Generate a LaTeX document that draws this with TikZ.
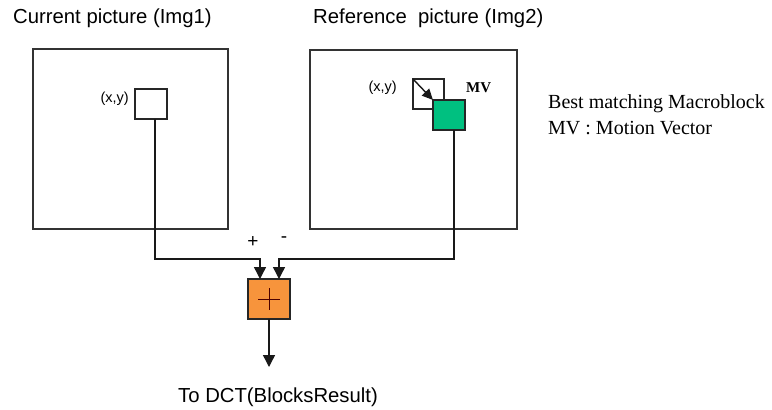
\documentclass[tikz,border=0pt]{standalone}
\usepackage{fontspec}
\setmainfont{Liberation Serif}
\newfontfamily\arialf{Liberation Sans}
\usetikzlibrary{arrows.meta,calc}
\definecolor{mvgreen}{RGB}{0,192,128}
\definecolor{sumorange}{RGB}{247,148,60}
\begin{document}
\begin{tikzpicture}[x=1pt,y=-1pt,
  frame/.style={draw=black!80,line width=1.6pt,inner sep=0pt,outer sep=0pt},
  blk/.style={draw=black!85,line width=1.3pt,inner sep=0pt,outer sep=0pt},
  conn/.style={draw=black!90,line width=1.4pt},
  arr/.style={conn,-{Triangle[length=12pt,width=12pt]}},
  lbl/.style={font=\arialf\fontsize{20.3}{23}\selectfont,inner sep=0pt,anchor=west},
  small/.style={font=\arialf\fontsize{14.5}{16}\selectfont,inner sep=0pt},
  note/.style={font=\fontsize{20}{23}\selectfont,inner sep=0pt,anchor=west,align=left}]
\useasboundingbox (0,0) rectangle (772,410);
% frames
\node[frame,minimum width=195pt,minimum height=180pt] (f1) at (130.5,139) {};
\node[frame,minimum width=207pt,minimum height=179pt] (f2) at (413.5,139.5) {};
% titles
\node[lbl] (t1) at (13,18) {Current picture (Img1)};
\node[lbl] (t2) at (313,18) {Reference\ \ picture (Img2)};
% blocks
\node[blk,minimum width=32pt,minimum height=30pt] (b1) at (151,104) {};
\node[blk,minimum width=31pt,minimum height=30pt] (b2) at (428.5,94) {};
\node[blk,fill=mvgreen,minimum width=32pt,minimum height=30pt] (g) at (449,115) {};
\node[small,anchor=east] (xy1) at (129,99) {(x,y)};
\node[small,anchor=east] (xy2) at (397,88) {(x,y)};
\node[font=\bfseries\fontsize{15}{17}\selectfont,inner sep=0pt,anchor=west] (mv) at (466,88) {MV};
\draw[conn,-{Triangle[length=11pt,width=10pt]}] (b2.north west) -- (g.north west);
% notes
\node[note] (n1) at (548,104) {Best matching Macroblock};
\node[note] (n2) at (548,128) {MV : Motion Vector};
% sum
\node[blk,fill=sumorange,minimum width=42pt,minimum height=40pt] (s) at (269,299) {};
\draw[line width=1pt,draw=black!70!red] ($(s.center)+(-11,0)$) -- ($(s.center)+(11,0)$)
  ($(s.center)+(0,-11)$) -- ($(s.center)+(0,11)$);
\coordinate (pin) at (260,279);
\coordinate (min) at (279,279);
\draw[arr] (b1.south -| 155,0) -- (155,259) -- (260,259) -- (pin);
\draw[arr] (g.south -| 454,0) -- (454,259) -- (279,259) -- (min);
\node[lbl,anchor=center,font=\arialf\fontsize{19}{20}\selectfont] (plus) at (253,242) {+};
\node[lbl,anchor=center,font=\arialf\fontsize{19}{20}\selectfont] (minus) at (284,240) {-};
\coordinate (out) at (269,367);
\draw[arr] (s.south) -- (out);
\node[lbl] (dct) at (178,397) {To DCT(BlocksResult)};
\end{tikzpicture}
\end{document}
